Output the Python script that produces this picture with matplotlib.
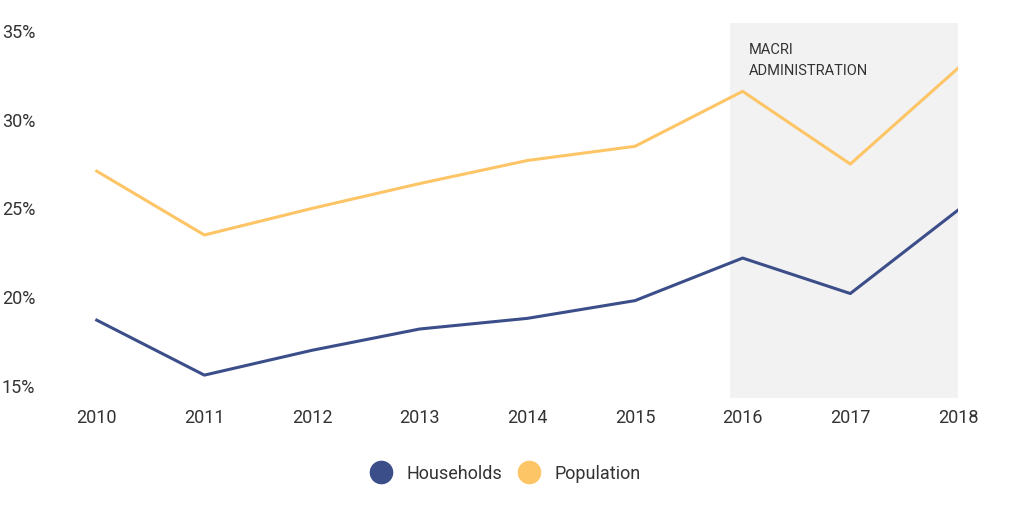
import matplotlib.pyplot as plt
from matplotlib.ticker import FuncFormatter

plt.rcParams['font.family'] = ['Roboto', 'DejaVu Sans']

years = [2010, 2011, 2012, 2013, 2014, 2015, 2016, 2017, 2018]
households = [18.7, 15.6, 17.0, 18.2, 18.8, 19.8, 22.2, 20.2, 24.9]
population = [27.1, 23.5, 25.0, 26.4, 27.7, 28.5, 31.6, 27.5, 32.9]
y_ticks = [15, 20, 25, 30, 35]

navy = '#3b4e89'
gold = '#fdc566'
text_color = '#333333'

fig = plt.figure(figsize=(10.24, 5.12), dpi=100)
ax = fig.add_axes([0.044, 0.223, 0.8915, 0.732])

# Macri administration shading
ax.axvspan(2015.88, 2018.0, color='#f2f2f2', zorder=0, lw=0)
ax.text(2016.06, 34.3, 'MACRI\nADMINISTRATION', fontsize=10.5, color=text_color,
        va='top', ha='left', linespacing=1.6)

ax.plot(years, households, color=navy, lw=2.2, label='Households', zorder=3)
ax.plot(years, population, color=gold, lw=2.2, label='Population', zorder=3)

ax.set_xlim(2009.52, 2018.0)
ax.set_ylim(14.32, 35.45)
ax.set_xticks(years)
ax.set_yticks(y_ticks)
ax.yaxis.set_major_formatter(FuncFormatter(lambda v, p: f'{v:.0f}%'))

for s in ax.spines.values():
    s.set_visible(False)
ax.tick_params(length=0, labelsize=13, colors=text_color)
ax.tick_params(axis='y', pad=7)
ax.tick_params(axis='x', pad=8)

handles = [plt.Line2D([], [], ls='none', marker='o', ms=16, color=navy),
           plt.Line2D([], [], ls='none', marker='o', ms=16, color=gold)]
leg = fig.legend(handles, ['Households', 'Population'], loc='center',
                 bbox_to_anchor=(0.49, 0.075), ncol=2, frameon=False,
                 fontsize=13, handletextpad=0.4, columnspacing=0.5)
for t in leg.get_texts():
    t.set_color(text_color)

fig.savefig('out.png', dpi=100)
